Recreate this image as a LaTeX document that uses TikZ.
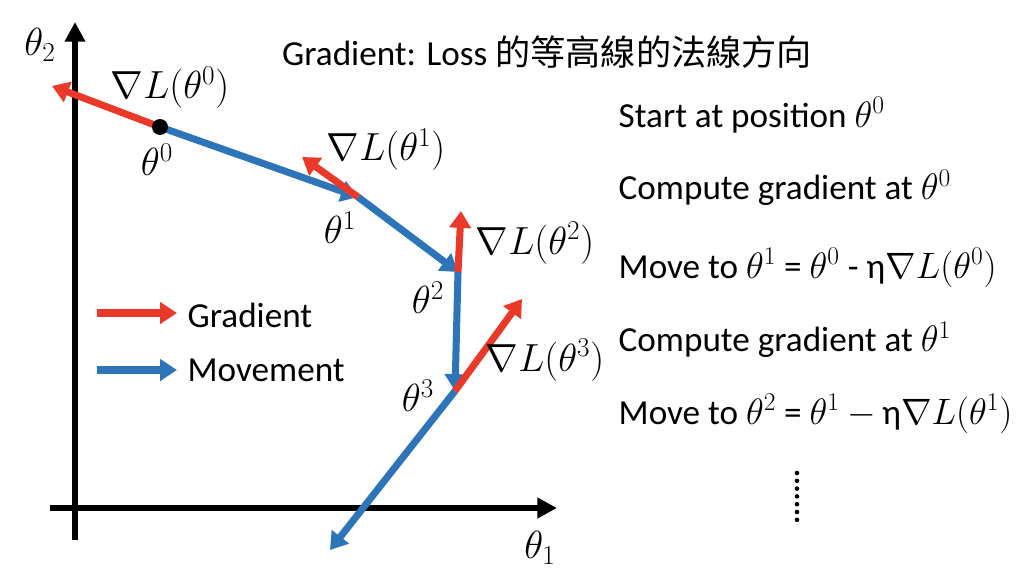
\documentclass[tikz,border=0pt]{standalone}
\usepackage{fontspec}
\setmainfont{Carlito}
\newfontfamily\cjkfont{Noto Sans CJK TC}
\usetikzlibrary{arrows.meta}
\definecolor{gradred}{RGB}{234,56,41}
\definecolor{moveblue}{RGB}{46,116,184}
\newcommand\mth[2][1.12]{\scalebox{#1}{$#2$}}

\begin{document}
\begin{tikzpicture}
  [x=0.025cm,y=-0.025cm,
   every node/.style={font=\fontsize{25}{29}\selectfont,inner sep=1pt},
   axis/.style={line width=3.6pt,-{Triangle[width=14pt,length=14pt]}},
   grad/.style={gradred,line width=5pt,-{Triangle[width=15pt,length=12pt]}},
   move/.style={moveblue,line width=5pt,-{Triangle[width=15pt,length=12pt]}},
   txt/.style={anchor=west}]
  \useasboundingbox (0,0) rectangle (1024,577);

  % axes
  \coordinate (ybot) at (75,540);
  \coordinate (ytop) at (75,22);
  \coordinate (xleft) at (50,508);
  \coordinate (xright) at (557,508);
  \draw[axis] (ybot) -- (ytop);
  \draw[axis] (xleft) -- (xright);
  \node (lt2) at (40,45) {\mth{\theta_2}};
  \node (lt1) at (540,548) {\mth{\theta_1}};

  % positions and gradient tips
  \coordinate (t0) at (160,127);
  \coordinate (t1) at (358,197);
  \coordinate (t2) at (458,272);
  \coordinate (t3) at (455,391);
  \coordinate (t4) at (330,550);
  \coordinate (g0) at (52,86);
  \coordinate (g1) at (302,157);
  \coordinate (g2) at (461,211);
  \coordinate (g3) at (522,299);

  \foreach \from/\to in {t0/t1, t1/t2, t2/t3, t3/t4}
  \draw[move] (\from) -- (\to);

  \foreach \from/\to in {t0/g0, t1/g1, t2/g2, t3/g3}
  \draw[grad] (\from) -- (\to);

  \fill (t0) circle (8);

  \node (lg0) at (170,88) {\mth{\nabla L(\theta^0)}};
  \node (lp0) at (157,160) {\mth{\theta^0}};
  \node (lg1) at (386,150) {\mth{\nabla L(\theta^1)}};
  \node (lp1) at (340,228) {\mth{\theta^1}};
  \node (lg2) at (535,243) {\mth{\nabla L(\theta^2)}};
  \node (lp2) at (428,298) {\mth{\theta^2}};
  \node (lg3) at (545,360) {\mth{\nabla L(\theta^3)}};
  \node (lp3) at (418,396) {\mth{\theta^3}};

  % legend
  \node[txt] (legG) at (186,315) {Gradient};
  \node[txt] (legM) at (186,370) {Movement};
  \coordinate (legGs) at (97,313);
  \coordinate (legGe) at (177,313);
  \coordinate (legMs) at (97,370);
  \coordinate (legMe) at (177,370);
  \draw[grad] (legGs) -- (legGe);
  \draw[move] (legMs) -- (legMe);

  % title and steps
  \node (title) at (547,52) {Gradient: Loss {\cjkfont 的等高線的法線方向}};
  \node[txt] (s1) at (617,115) {Start at position \mth[1.05]{\theta^0}};
  \node[txt] (s2) at (617,188) {Compute gradient at \mth[1.05]{\theta^0}};
  \node[txt] (s3) at (617,268) {Move to \mth[1.05]{\theta^1} = \mth[1.05]{\theta^0} - η\mth[1.05]{\nabla L(\theta^0)}};
  \node[txt] (s4) at (617,340) {Compute gradient at \mth[1.05]{\theta^1}};
  \node[txt] (s5) at (617,414) {Move to \mth[1.05]{\theta^2} = \mth[1.05]{\theta^1} \mth[1.05]{-}\,η\mth[1.05]{\nabla L(\theta^1)}};
  \foreach \i in {0,...,6}
  \fill (797,473+\i*7.8) circle (2.3);
\end{tikzpicture}
\end{document}
